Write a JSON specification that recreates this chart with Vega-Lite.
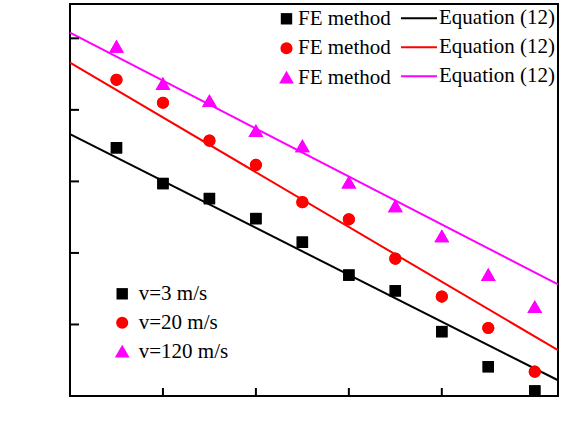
{
  "$schema": "https://vega.github.io/schema/vega-lite/v6.json",
  "width": 488,
  "height": 392,
  "autosize": {"type": "none"},
  "padding": {"left": 70, "top": 4, "right": 18, "bottom": 52},
  "config": {
    "view": {"stroke": "black", "strokeWidth": 2},
    "font": "Liberation Serif"
  },
  "layer": [
    {
      "data": {"values": [
        {"x": 0, "y": 0.766, "s": "3"},
        {"x": 0.42, "y": 0.422, "s": "3"},
        {"x": 0, "y": 0.866, "s": "20"},
        {"x": 0.42, "y": 0.464, "s": "20"},
        {"x": 0, "y": 0.908, "s": "120"},
        {"x": 0.42, "y": 0.556, "s": "120"}
      ]},
      "mark": {"type": "line", "strokeWidth": 2},
      "encoding": {
        "x": {
          "field": "x",
          "type": "quantitative",
          "scale": {"domain": [0, 0.42], "nice": false, "zero": false},
          "axis": {
            "title": "Δρ",
            "values": [0, 0.08, 0.16, 0.24, 0.32, 0.42],
            "labelExpr": "datum.value == 0 ? '0' : (datum.value > 0.4 ? '0.40' : format(datum.value, '.2f'))",
            "domain": false,
            "grid": false,
            "ticks": true,
            "offset": -8,
            "tickSize": 8,
            "tickWidth": 2,
            "tickColor": "black",
            "zindex": 1,
            "labelFont": "Liberation Serif",
            "labelFontSize": 21,
            "labelColor": "black",
            "labelFlush": false,
            "labelOverlap": false,
            "labelPadding": 6,
            "titleFont": "Liberation Serif",
            "titleFontSize": 20,
            "titleFontWeight": "normal",
            "titleColor": "black",
            "titleX": 247,
            "titleY": 37,
            "titleAlign": "center",
            "titleBaseline": "middle"
          }
        },
        "y": {
          "field": "y",
          "type": "quantitative",
          "scale": {"domain": [0.4, 0.948], "nice": false, "zero": false},
          "axis": {
            "title": "εD",
            "values": [0.4, 0.5, 0.6, 0.7, 0.8, 0.9],
            "format": ".1f",
            "domain": false,
            "grid": false,
            "ticks": true,
            "offset": -8,
            "tickSize": 8,
            "tickWidth": 2,
            "tickColor": "black",
            "zindex": 1,
            "labelFont": "Liberation Serif",
            "labelFontSize": 21,
            "labelColor": "black",
            "labelFlush": false,
            "labelOverlap": false,
            "labelPadding": 4,
            "titleFont": "Liberation Serif",
            "titleFontSize": 18,
            "titleFontWeight": "normal",
            "titleColor": "black",
            "titleX": -65,
            "titleY": 208,
            "titleAngle": -90,
            "titleAlign": "center",
            "titleBaseline": "middle"
          }
        },
        "color": {
          "field": "s",
          "type": "nominal",
          "scale": {"domain": ["3", "20", "120"], "range": ["#000000", "#ff0000", "#ff00ff"]},
          "legend": {
            "title": null,
            "orient": "none",
            "legendX": 330,
            "legendY": -4.7,
            "padding": 0,
            "symbolType": "stroke",
            "symbolSize": 1296,
            "symbolStrokeWidth": 2,
            "labelOffset": 1,
            "rowPadding": -10.5,
            "labelFont": "Liberation Serif",
            "labelFontSize": 21,
            "labelColor": "black",
            "labelExpr": "'Equation (12)'"
          }
        }
      }
    },
    {
      "data": {"values": [{"x": 0.08}, {"x": 0.16}, {"x": 0.24}, {"x": 0.32}]},
      "mark": {"type": "tick", "orient": "vertical", "thickness": 2, "size": 16, "color": "black", "opacity": 1, "clip": true},
      "encoding": {
        "x": {"field": "x", "type": "quantitative", "axis": null},
        "y": {"datum": 0.4, "type": "quantitative", "axis": null}
      }
    },
    {
      "data": {"values": [{"y": 0.5}, {"y": 0.6}, {"y": 0.7}, {"y": 0.8}, {"y": 0.9}]},
      "mark": {"type": "tick", "orient": "horizontal", "thickness": 2, "size": 18, "color": "black", "opacity": 1, "clip": true},
      "encoding": {
        "y": {"field": "y", "type": "quantitative", "axis": null},
        "x": {"datum": 0, "type": "quantitative", "axis": null}
      }
    },
    {
      "data": {"values": [
        {"x": 0.04, "y": 0.747, "s": "3"},
        {"x": 0.08, "y": 0.697, "s": "3"},
        {"x": 0.12, "y": 0.676, "s": "3"},
        {"x": 0.16, "y": 0.648, "s": "3"},
        {"x": 0.20, "y": 0.615, "s": "3"},
        {"x": 0.24, "y": 0.569, "s": "3"},
        {"x": 0.28, "y": 0.547, "s": "3"},
        {"x": 0.32, "y": 0.490, "s": "3"},
        {"x": 0.36, "y": 0.441, "s": "3"},
        {"x": 0.40, "y": 0.407, "s": "3"},
        {"x": 0.04, "y": 0.842, "s": "20"},
        {"x": 0.08, "y": 0.810, "s": "20"},
        {"x": 0.12, "y": 0.757, "s": "20"},
        {"x": 0.16, "y": 0.723, "s": "20"},
        {"x": 0.20, "y": 0.671, "s": "20"},
        {"x": 0.24, "y": 0.647, "s": "20"},
        {"x": 0.28, "y": 0.592, "s": "20"},
        {"x": 0.32, "y": 0.539, "s": "20"},
        {"x": 0.36, "y": 0.495, "s": "20"},
        {"x": 0.40, "y": 0.434, "s": "20"},
        {"x": 0.04, "y": 0.888, "s": "120"},
        {"x": 0.08, "y": 0.836, "s": "120"},
        {"x": 0.12, "y": 0.812, "s": "120"},
        {"x": 0.16, "y": 0.770, "s": "120"},
        {"x": 0.20, "y": 0.749, "s": "120"},
        {"x": 0.24, "y": 0.698, "s": "120"},
        {"x": 0.28, "y": 0.665, "s": "120"},
        {"x": 0.32, "y": 0.623, "s": "120"},
        {"x": 0.36, "y": 0.569, "s": "120"},
        {"x": 0.40, "y": 0.524, "s": "120"}
      ]},
      "layer": [
        {
          "mark": {"type": "point", "filled": true, "opacity": 1},
          "encoding": {
            "x": {"field": "x", "type": "quantitative"},
            "y": {"field": "y", "type": "quantitative"},
            "color": {
              "field": "s",
              "type": "nominal",
              "scale": {"domain": ["3", "20", "120"], "range": ["#000000", "#ff0000", "#ff00ff"]},
              "legend": {
                "title": null,
                "orient": "none",
                "legendX": 206,
                "legendY": 4.3,
                "padding": 0,
                "symbolOpacity": 1,
                "labelOffset": 1,
                "rowPadding": 7.5,
                "labelFont": "Liberation Serif",
                "labelFontSize": 21,
                "labelColor": "black",
                "labelExpr": "'FE method'"
              }
            },
            "shape": {
              "field": "s",
              "type": "nominal",
              "scale": {"domain": ["3", "20", "120"], "range": ["square", "circle", "M0,-1.1L1.15,0.9L-1.15,0.9Z"]},
              "legend": {
                "title": null,
                "orient": "none",
                "legendX": 206,
                "legendY": 4.3,
                "padding": 0,
                "symbolOpacity": 1,
                "labelOffset": 1,
                "rowPadding": 7.5,
                "labelFont": "Liberation Serif",
                "labelFontSize": 21,
                "labelColor": "black",
                "labelExpr": "'FE method'"
              }
            },
            "size": {
              "field": "s",
              "type": "nominal",
              "scale": {"domain": ["3", "20", "120"], "range": [130, 165, 170]},
              "legend": {
                "title": null,
                "orient": "none",
                "legendX": 206,
                "legendY": 4.3,
                "padding": 0,
                "symbolOpacity": 1,
                "labelOffset": 1,
                "rowPadding": 7.5,
                "labelFont": "Liberation Serif",
                "labelFontSize": 21,
                "labelColor": "black",
                "labelExpr": "'FE method'"
              }
            }
          }
        },
        {
          "mark": {"type": "point", "filled": true, "opacity": 1},
          "encoding": {
            "x": {"field": "x", "type": "quantitative"},
            "y": {"field": "y", "type": "quantitative"},
            "color": {
              "field": "s",
              "type": "nominal",
              "scale": {"domain": ["3", "20", "120"], "range": ["#000000", "#ff0000", "#ff00ff"]},
              "legend": {
                "title": null,
                "orient": "none",
                "legendX": 41.7,
                "legendY": 279.3,
                "padding": 0,
                "symbolOpacity": 1,
                "labelOffset": 6,
                "rowPadding": 7,
                "labelFont": "Liberation Serif",
                "labelFontSize": 21,
                "labelColor": "black",
                "labelExpr": "'v=' + datum.label + ' m/s'"
              }
            },
            "shape": {
              "field": "s",
              "type": "nominal",
              "scale": {"domain": ["3", "20", "120"], "range": ["square", "circle", "M0,-1.1L1.15,0.9L-1.15,0.9Z"]},
              "legend": {
                "title": null,
                "orient": "none",
                "legendX": 41.7,
                "legendY": 279.3,
                "padding": 0,
                "symbolOpacity": 1,
                "labelOffset": 6,
                "rowPadding": 7,
                "labelFont": "Liberation Serif",
                "labelFontSize": 21,
                "labelColor": "black",
                "labelExpr": "'v=' + datum.label + ' m/s'"
              }
            },
            "size": {
              "field": "s",
              "type": "nominal",
              "scale": {"domain": ["3", "20", "120"], "range": [130, 165, 170]},
              "legend": {
                "title": null,
                "orient": "none",
                "legendX": 41.7,
                "legendY": 279.3,
                "padding": 0,
                "symbolOpacity": 1,
                "labelOffset": 6,
                "rowPadding": 7,
                "labelFont": "Liberation Serif",
                "labelFontSize": 21,
                "labelColor": "black",
                "labelExpr": "'v=' + datum.label + ' m/s'"
              }
            }
          }
        }
      ],
      "resolve": {"scale": {"color": "independent", "shape": "independent", "size": "independent"}}
    }
  ],
  "resolve": {"scale": {"color": "independent", "shape": "independent", "size": "independent"}}
}
